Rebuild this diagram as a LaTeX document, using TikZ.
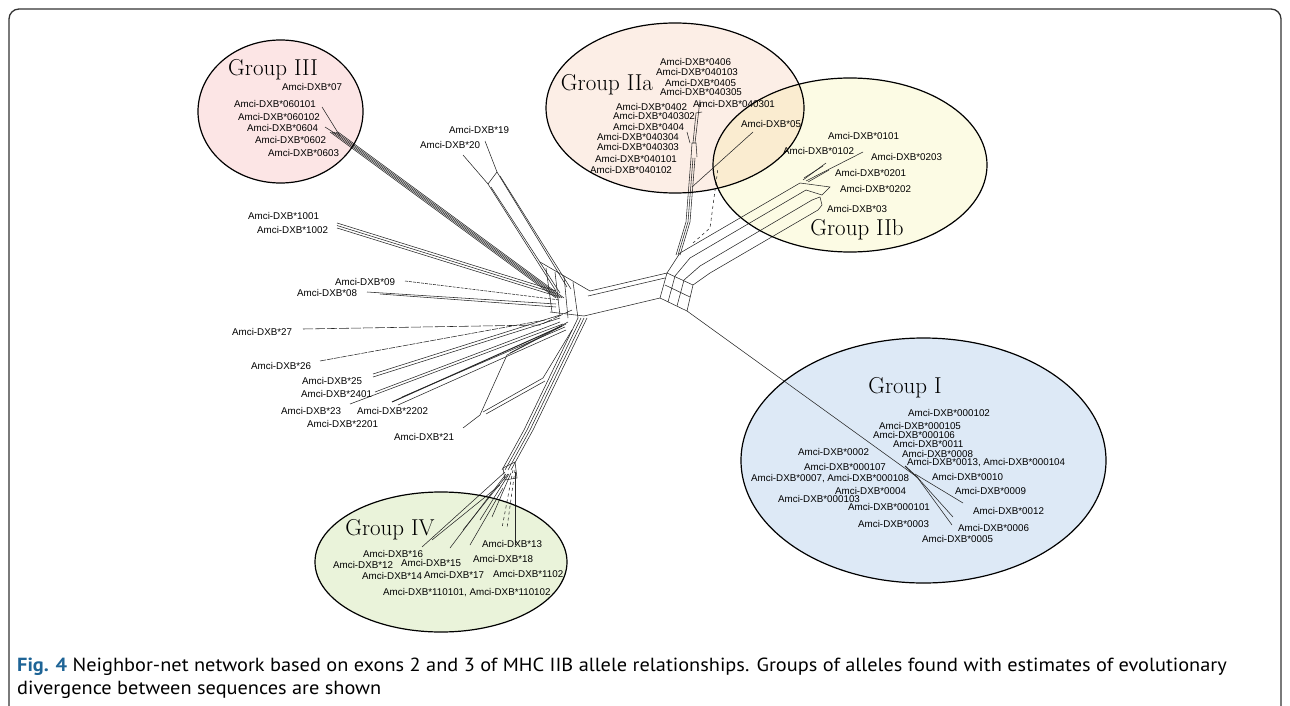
\documentclass[tikz,border=0pt]{standalone}
\usepackage{fontspec}
\usepackage{xcolor}
\newfontfamily\labfont{Liberation Sans}
\newfontfamily\capfont[FakeStretch=1.07]{PT Sans}
\usetikzlibrary{positioning}
\definecolor{pinkfill}{RGB}{252,229,229}
\definecolor{peachfill}{RGB}{252,238,230}
\definecolor{yellowfill}{RGB}{252,251,228}
\definecolor{overlapfill}{RGB}{250,236,208}
\definecolor{bluefill}{RGB}{221,233,246}
\definecolor{greenfill}{RGB}{234,243,218}
\definecolor{figblue}{RGB}{30,100,150}

\begin{document}
\begin{tikzpicture}[x=1pt,y=-1pt,
    allele/.style={anchor=west,inner sep=0pt,font=\labfont\fontsize{9.8}{11}\selectfont},
    grouptitle/.style={inner sep=0pt,font=\fontsize{23}{25}\selectfont},
    grp/.style={draw=black,line width=1.2pt},
    net/.style={line width=0.55pt,draw=black!85}]

    \useasboundingbox (0,0) rectangle (1290,706);

    % frame
    \draw[line width=1.3pt,draw=black!80,rounded corners=10pt] (9,740) -- (9,9) -- (1281,9) -- (1281,740);

    % group ellipses
    \fill[pinkfill] (280.5,111.5) ellipse [x radius=82.5pt,y radius=71.5pt];
    \fill[peachfill] (675,108) ellipse [x radius=129pt,y radius=85pt];
    \fill[yellowfill] (850,165) ellipse [x radius=137pt,y radius=87pt];
    \begin{scope}
        \clip (675,108) ellipse [x radius=129pt,y radius=85pt];
        \fill[overlapfill] (850,165) ellipse [x radius=137pt,y radius=87pt];
    \end{scope}
    \fill[bluefill] (923.5,460.5) ellipse [x radius=182.5pt,y radius=122.5pt];
    \fill[greenfill] (441,562) ellipse [x radius=126pt,y radius=70pt];

    % network: left part
    \foreach \s in {0,2,4,6,8}
        \draw[net,xshift=\s] (330,132) -- (556,298);
    \draw[net] (322,107) -- (340,136);
    \draw[net] (325,127) -- (336,134);
    \draw[net] (463,155) -- (488,184) -- (556,291);
    \draw[net] (485,141) -- (497,172) -- (567,287);
    \draw[net] (488,184) -- (497,172);
    \draw[net] (491,187) -- (560,293);
    \draw[net] (500,176) -- (571,289);
    \foreach \s in {0,2.5,5}
        \draw[net,yshift=\s] (337,228) -- (556,296);
    \draw[net,dash pattern=on 3pt off 1pt] (405,281) -- (560,300);
    \draw[net] (367,292) -- (556,304);
    \draw[net] (380,294) -- (556,307);
    \draw[net,dash pattern=on 10pt off 2pt] (303,329) -- (540,325) -- (572,310);
    \draw[net,dash pattern=on 6pt off 1pt] (320,361) -- (545,320);
    \foreach \s in {0,3}
        \draw[net,yshift=\s] (373,377) -- (560,318);
    \draw[net] (375,392) -- (560,322);
    \draw[net] (350,404) -- (563,324);
    \draw[net,line width=1pt] (392,402) -- (562,326);
    \draw[net] (402,397) -- (565,327);
    \draw[net] (398,405) -- (566,330);
    \draw[net] (463,428) -- (480,415) -- (507,355) -- (566,324);
    \draw[net] (483,412) -- (543,378) -- (572,330);
    \draw[net] (486,414) -- (545,381);
    \draw[net] (510,353) -- (568,322);

    % left hub
    \draw[net] (540,262) -- (590,291);
    \draw[net] (546,268) -- (552,312);
    \draw[net] (555,272) -- (560,316);
    \draw[net] (564,276) -- (568,318);
    \draw[net] (573,282) -- (578,318);
    \draw[net] (550,312) -- (584,316);

    % Group IV branch
    \foreach \s in {0,3,6,9}
        \draw[net,xshift=\s] (578,318) -- (524,430) -- (502,470);
    \draw[net] (503,468) -- (515,462) -- (517,478) -- (505,480) -- cycle;
    \draw[net] (505,472) -- (422,547);
    \draw[net] (506,474) -- (450,548);
    \draw[net] (508,474) -- (463,530);
    \draw[net] (509,474) -- (480,520);
    \draw[net] (511,473) -- (492,517);
    \draw[net] (500,485) -- (432,540);
    \draw[net] (503,488) -- (470,545);
    \draw[net,dashed] (513,470) -- (502,528);
    \draw[net,dashed] (515,470) -- (507,528);
    \draw[net] (515,472) -- (515,545);

    % link between hubs
    \draw[net] (590,291) -- (667,273);
    \draw[net] (588,296) -- (665,278);
    \draw[net] (584,316) -- (660,298);

    % right hub
    \draw[net] (660,298) -- (667,273) -- (680,253);
    \draw[net] (668,302) -- (675,276) -- (690,258);
    \draw[net] (677,306) -- (684,280) -- (700,266);
    \draw[net] (687,311) -- (693,285) -- (710,273);
    \draw[net] (660,298) -- (687,311);
    \draw[net] (665,285) -- (690,297);
    \draw[net] (667,273) -- (693,285);

    % Group IIa branch
    \foreach \s in {0,2,4}
        \draw[net,xshift=\s] (676,255) -- (686,222) -- (691,158);
    \draw[net] (691,158) -- (692,143) -- (696,143) -- (697,157);
    \draw[net] (693,143) -- (696,113);
    \draw[net] (695,143) -- (700,100);
    \draw[net] (696,113) -- (702,112);
    \draw[net] (687,132) -- (690,143);
    \draw[net] (692,187) -- (753,132);
    \draw[net,dashed] (693,243) -- (710,228) -- (718,168);

    % Group IIb branch
    \draw[net] (680,253) -- (800,183);
    \draw[net] (690,258) -- (806,190);
    \draw[net] (700,266) -- (812,200);
    \draw[net] (710,273) -- (818,210);
    \draw[net] (800,183) -- (830,187) -- (822,195) -- (806,190);
    \draw[net] (812,200) -- (820,197) -- (822,205) -- (818,210);
    \draw[net] (803,180) -- (826,163);
    \draw[net] (806,181) -- (863,152);
    \draw[net] (804,178) -- (823,166);
    \draw[net] (808,182) -- (829,170);

    % Group I branch
    \draw[net] (687,311) -- (917,477);
    \draw[net,line width=1pt] (905,466) -- (918,478);
    \draw[net] (915,474) -- (963,503);
    \draw[net] (917,477) -- (953,517);
    \draw[net] (917,477) -- (952,525);

    % ellipse outlines
    \draw[grp] (280.5,111.5) ellipse [x radius=82.5pt,y radius=71.5pt];
    \draw[grp] (675,108) ellipse [x radius=129pt,y radius=85pt];
    \draw[grp] (850,165) ellipse [x radius=137pt,y radius=87pt];
    \draw[grp] (923.5,460.5) ellipse [x radius=182.5pt,y radius=122.5pt];
    \draw[grp] (441,562) ellipse [x radius=126pt,y radius=70pt];

    % group titles
    \node[grouptitle] (g3) at (273,70) {Group III};
    \node[grouptitle] (g2a) at (607,85) {Group IIa};
    \node[grouptitle] (g2b) at (857,230) {Group IIb};
    \node[grouptitle] (g1) at (905,388) {Group I};
    \node[grouptitle] (g4) at (390,530) {Group IV};

    % allele labels
    \foreach \n/\x/\y in {07/282/87, 060101/234/104, 060102/238/117, 0604/247/128,
            0602/255/140, 0603/268/153, 19/449/130, 20/420/145, 1001/248/216,
            1002/257/230, 09/335/282, 08/297/293, 27/232/332, 26/251/366,
            25/302/381, 2401/301/394, 23/281/411, 2202/357/411, 2201/307/424,
            21/394/437}
        \node[allele] (a\n) at (\x,\y) {Amci-DXB*\n};
    \foreach \n/\x/\y in {13/482/544, 16/363/554, 18/473/559, 12/333/565,
            15/401/563, 14/362/576, 17/424/575, 1102/493/574}
        \node[allele] (a\n) at (\x,\y) {Amci-DXB*\n};
    \node[allele] (a110101) at (383,593) {Amci-DXB*110101, Amci-DXB*110102};
    \foreach \n/\x/\y in {0406/660/62, 040103/656/72, 0405/665/83, 040305/660/92,
            0402/616/107, 040301/693/104, 040302/613/116, 0404/613/127,
            040304/597/137, 040303/597/147, 040101/595/159, 040102/590/170,
            05/741/124}
        \node[allele] (a\n) at (\x,\y) {Amci-DXB*\n};
    \foreach \n/\x/\y in {0101/828/136, 0102/783/151, 0203/871/157,
            0201/835/173, 0202/840/189, 03/827/209}
        \node[allele] (a\n) at (\x,\y) {Amci-DXB*\n};
    \foreach \n/\x/\y in {000102/908/413, 000105/879/426, 000106/873/435,
            0011/893/444, 0002/798/452, 0008/902/454, 000107/804/467,
            0010/932/477, 0004/835/491, 0009/955/491, 000103/778/499,
            000101/848/507, 0012/973/511, 0003/858/524, 0006/958/528,
            0005/922/539}
        \node[allele] (a\n) at (\x,\y) {Amci-DXB*\n};
    \node[allele] (a0013) at (907,463) {Amci-DXB*0013, Amci-DXB*000104};
    \node[allele] (a0007) at (751,479) {Amci-DXB*0007, Amci-DXB*000108};

    % caption
    \node[anchor=base west,inner sep=0pt,font=\capfont\fontsize{19}{23}\selectfont] (cap1) at (17,671)
        {\textcolor{figblue}{\bfseries Fig. 4} Neighbor-net network based on exons 2 and 3 of MHC IIB allele relationships. Groups of alleles found with estimates of evolutionary};
    \node[anchor=base west,inner sep=0pt,font=\capfont\fontsize{19}{23}\selectfont] (cap2) at (17,694)
        {divergence between sequences are shown};
\end{tikzpicture}
\end{document}
